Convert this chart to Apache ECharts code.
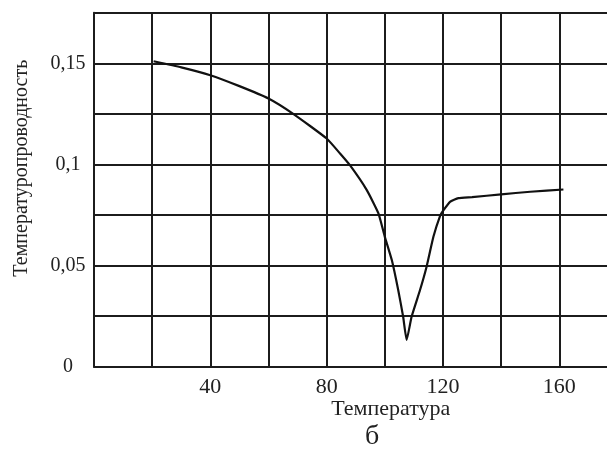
<!DOCTYPE html>
<html>
<head>
<meta charset="utf-8">
<script src="https://cdn.jsdelivr.net/npm/echarts@6/dist/echarts.min.js"></script>
<style>html,body{margin:0;padding:0;background:#fff}#c{width:607px;height:452px}</style>
</head>
<body>
<div id="c"></div>
<script>
var temperature = [20.5, 30, 40, 50, 60, 68.5, 80, 84.6, 88, 93.8, 97.8, 100, 102.4, 104.6, 106.3, 107.5, 109.2, 112.1, 114.4, 116.7, 119, 120, 122.4, 125.3, 130, 140, 150, 161.4];
var diffusivity = [0.151, 0.148, 0.1441, 0.1387, 0.1326, 0.125, 0.1128, 0.1054, 0.0996, 0.0873, 0.0758, 0.0642, 0.0527, 0.0379, 0.0247, 0.0132, 0.0247, 0.0379, 0.0497, 0.0642, 0.0746, 0.077, 0.0815, 0.0833, 0.0838, 0.0852, 0.0865, 0.0876];
var xTickLabels = [40, 80, 120, 160];
var yTickLabels = ['0', '0,05', '0,1', '0,15'];
var xTitle = 'Температура';
var yTitle = 'Температуропроводность';
var caption = 'б';

var points = temperature.map(function (t, i) { return [t, diffusivity[i]]; });
var font = '"Liberation Serif", "DejaVu Serif", serif';
var gridColor = '#1c1c1c';

var chart = echarts.init(document.getElementById('c'), null, { renderer: 'canvas' });
chart.setOption({
  animation: false,
  backgroundColor: '#fff',
  grid: { left: 94, right: -10.5, top: 12.7, bottom: 85.3, containLabel: false, outerBoundsMode: 'none' },
  xAxis: {
    type: 'value', min: 0, max: 180, interval: 20,
    name: xTitle, nameLocation: 'middle', nameGap: 32, nameMoveOverlap: false,
    nameTextStyle: { fontFamily: font, fontSize: 22, color: '#222', padding: [0, 0, 0, 70] },
    axisLine: { show: true, lineStyle: { color: gridColor, width: 2 } },
    axisTick: { show: false },
    axisLabel: {
      margin: 10, fontFamily: font, fontSize: 22, color: '#222',
      formatter: function (v) { return xTickLabels.indexOf(v) >= 0 ? String(v) : ''; }
    },
    splitLine: { show: true, showMaxLine: false, lineStyle: { color: gridColor, width: 2 } }
  },
  yAxis: {
    type: 'value', min: 0, max: 0.175, interval: 0.025,
    name: yTitle, nameLocation: 'middle', nameGap: 62, nameRotate: 90, nameMoveOverlap: false,
    nameTextStyle: { fontFamily: font, fontSize: 20, color: '#222', padding: [0, 0, 0, 43] },
    axisLine: { show: true, lineStyle: { color: gridColor, width: 2 } },
    axisTick: { show: false },
    axisLabel: {
      margin: 26, align: 'center', fontFamily: font, fontSize: 20, color: '#222',
      formatter: function (v) {
        var k = Math.round(v * 1000);
        if (k % 50 !== 0) return '';
        var idx = k / 50;
        return yTickLabels[idx] || '';
      }
    },
    splitLine: { show: true, lineStyle: { color: gridColor, width: 2 } }
  },
  graphic: [{
    type: 'text', left: 365, top: 423,
    style: { text: caption, fontFamily: font, fontSize: 28, fill: '#222' }
  }],
  series: [{
    type: 'line', data: points, showSymbol: false, smooth: 0.15,
    lineStyle: { color: '#111', width: 2.2 }
  }]
});
</script>
</body>
</html>
